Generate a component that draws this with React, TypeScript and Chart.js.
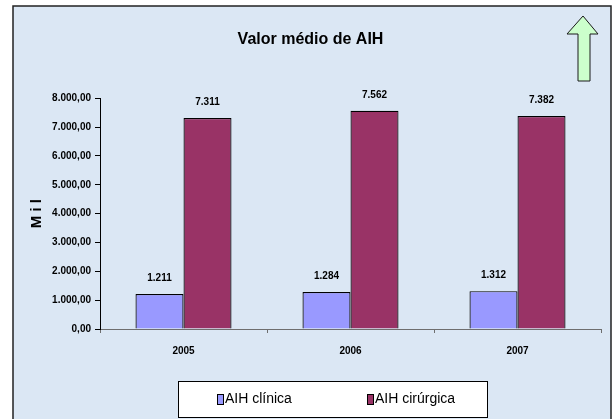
import React, { useEffect, useRef } from "react";
import { Chart, registerables } from "chart.js";

Chart.register(...registerables);

const categories = ["2005", "2006", "2007"];
const clinicaValues = [1211, 1284, 1312];
const cirurgicaValues = [7311, 7562, 7382];
const seriesLabels = ["AIH clínica", "AIH cirúrgica"];
const titleText = "Valor médio de AIH";
const yAxisTitle = "M i l";
const yMin = 0;
const yMax = 8000;
const yStep = 1000;

const FONT = "'Liberation Sans', Arial, sans-serif";

function fmtThousands(n: number): string {
  const s = Math.round(Math.abs(n)).toString();
  return s.replace(/\B(?=(\d{3})+(?!\d))/g, ".");
}
function fmtTick(n: number): string {
  return fmtThousands(n) + ",00";
}

const framePlugin = {
  id: "frame",
  beforeDraw(chart: any) {
    const ctx = chart.ctx;
    ctx.save();
    ctx.fillStyle = "#ffffff";
    ctx.fillRect(0, 0, chart.width, chart.height);
    ctx.fillStyle = "#dbe7f4";
    ctx.fillRect(13, 6, 598, chart.height);
    ctx.strokeStyle = "#222222";
    ctx.lineWidth = 1.5;
    ctx.beginPath();
    ctx.moveTo(13, chart.height + 2);
    ctx.lineTo(13, 6);
    ctx.lineTo(611, 6);
    ctx.lineTo(611, chart.height + 2);
    ctx.stroke();
    // arrow
    ctx.beginPath();
    ctx.moveTo(583, 16);
    ctx.lineTo(598, 34);
    ctx.lineTo(590, 34);
    ctx.lineTo(590, 81);
    ctx.lineTo(578, 81);
    ctx.lineTo(578, 34);
    ctx.lineTo(567, 34);
    ctx.closePath();
    ctx.fillStyle = "#ccffcc";
    ctx.fill();
    ctx.strokeStyle = "#1a1a1a";
    ctx.lineWidth = 1;
    ctx.stroke();
    ctx.restore();
  },
};

const labelsPlugin = {
  id: "barLabels",
  afterDatasetsDraw(chart: any) {
    const ctx = chart.ctx;
    ctx.save();
    ctx.font = `bold 10px ${FONT}`;
    ctx.fillStyle = "#000";
    ctx.textAlign = "center";
    ctx.textBaseline = "middle";
    chart.data.datasets.forEach((ds: any, i: number) => {
      const meta = chart.getDatasetMeta(i);
      meta.data.forEach((bar: any, j: number) => {
        ctx.fillText(fmtThousands(ds.data[j]), bar.x, bar.y - 16);
      });
    });
    ctx.restore();
  },
};

const legendPlugin = {
  id: "boxLegend",
  afterDraw(chart: any) {
    const ctx = chart.ctx;
    ctx.save();
    ctx.fillStyle = "#ffffff";
    ctx.fillRect(178, 381, 309, 36);
    ctx.strokeStyle = "#000";
    ctx.lineWidth = 1;
    ctx.strokeRect(178.5, 381.5, 309, 36);
    const xs = [217, 367];
    ctx.font = `14px ${FONT}`;
    ctx.textBaseline = "middle";
    ctx.textAlign = "left";
    chart.data.datasets.forEach((ds: any, i: number) => {
      const x = xs[i];
      ctx.fillStyle = ds.backgroundColor;
      ctx.fillRect(x, 394, 6, 10);
      ctx.strokeStyle = "#000";
      ctx.strokeRect(x + 0.5, 394.5, 6, 10);
      ctx.fillStyle = "#000";
      ctx.fillText(ds.label, x + 8, 399);
    });
    ctx.restore();
  },
};

export default function App() {
  const ref = useRef<HTMLCanvasElement>(null);
  useEffect(() => {
    if (!ref.current) return;
    const chart = new Chart(ref.current, {
      type: "bar",
      data: {
        labels: categories,
        datasets: [
          {
            label: seriesLabels[0],
            data: clinicaValues,
            backgroundColor: "#9999ff",
            borderColor: "#000000",
            borderWidth: 1.2,
            categoryPercentage: 0.575,
            barPercentage: 1,
          },
          {
            label: seriesLabels[1],
            data: cirurgicaValues,
            backgroundColor: "#993366",
            borderColor: "#000000",
            borderWidth: 1.2,
            categoryPercentage: 0.575,
            barPercentage: 1,
          },
        ],
      },
      options: {
        responsive: false,
        animation: false,
        layout: { padding: { left: 20, right: 13, top: 0, bottom: 50 } },
        plugins: {
          legend: { display: false },
          tooltip: { enabled: false },
          title: {
            display: true,
            text: titleText,
            color: "#000",
            font: { family: FONT, size: 16, weight: "bold" },
            padding: { top: 30, bottom: 49 },
          },
        },
        scales: {
          x: {
            grid: {
              display: true,
              drawOnChartArea: false,
              drawTicks: true,
              tickLength: 4,
              color: "#6e6e6e",
              offset: true,
            },
            border: { display: true, color: "#6e6e6e", width: 1 },
            ticks: {
              color: "#000",
              font: { family: FONT, size: 10, weight: "bold" },
              padding: 12,
            },
          },
          y: {
            min: yMin,
            max: yMax,
            afterFit(scale: any) {
              scale.width = 80;
            },
            grid: {
              display: true,
              drawOnChartArea: false,
              drawTicks: true,
              tickLength: 5,
              color: "#000",
            },
            border: { display: true, color: "#000", width: 1 },
            ticks: {
              stepSize: yStep,
              color: "#000",
              font: { family: FONT, size: 10, weight: "bold" },
              padding: 4,
              callback: (v: any) => fmtTick(Number(v)),
            },
            title: {
              display: true,
              text: yAxisTitle,
              color: "#000",
              font: { family: FONT, size: 15, weight: "bold" },
              padding: { top: 8, bottom: 0 },
            },
          },
        },
      },
      plugins: [framePlugin, labelsPlugin, legendPlugin],
    });
    return () => chart.destroy();
  }, []);
  return (
    <div style={{ position: "absolute", left: 0, top: 0, width: 614, height: 419 }}>
      <canvas ref={ref} width={614} height={419} style={{ display: "block" }} />
    </div>
  );
}
